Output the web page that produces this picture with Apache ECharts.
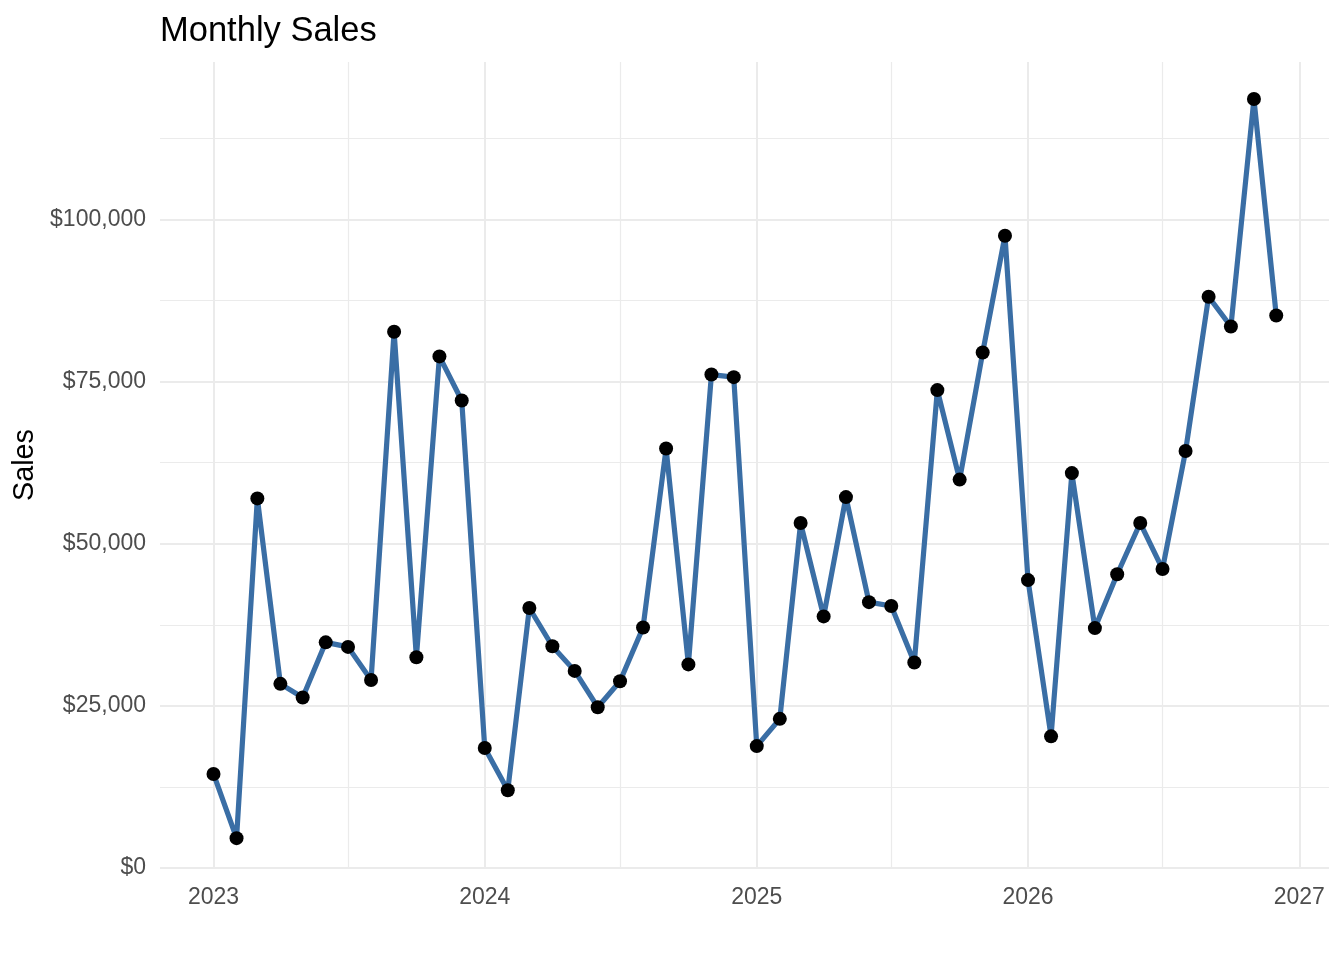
<!DOCTYPE html>
<html>
<head>
<meta charset="utf-8">
<script src="https://cdn.jsdelivr.net/npm/echarts@6/dist/echarts.min.js"></script>
<style>
  html, body { margin: 0; padding: 0; background: #fff; }
  #main { width: 1344px; height: 960px; }
</style>
</head>
<body>
<div id="main"></div>
<script>
var chartDom = document.getElementById('main');
var myChart = echarts.init(chartDom, null);

// monthly sales
var years = [2023, 2024, 2025, 2026];
var sales2023 = [14500, 4600, 57000, 28400, 26300, 34800, 34100, 29000, 82700, 32500, 78900, 72100];
var sales2024 = [18500, 12000, 40100, 34200, 30400, 24800, 28800, 37100, 64700, 31400, 76100, 75700];
var sales2025 = [18800, 23000, 53200, 38800, 57200, 41000, 40400, 31700, 73700, 59900, 79500, 97500];
var sales2026 = [44400, 20300, 60900, 37000, 45300, 53200, 46100, 64300, 88100, 83500, 118600, 85200];
var minorBreaks = ['2023-07-01', '2024-07-01', '2025-07-01', '2026-07-01'];

var allSales = [sales2023, sales2024, sales2025, sales2026];
var data = [];
years.forEach(function (y, i) {
    allSales[i].forEach(function (v, m) {
        var mm = (m + 1 < 10 ? '0' : '') + (m + 1);
        data.push([y + '-' + mm + '-01', v]);
    });
});

var grid = '#EBEBEB';
var tickColor = '#4D4D4D';
var font = 'Liberation Sans, Arial, Helvetica, sans-serif';

var option = {
    useUTC: true,
    animation: false,
    backgroundColor: '#ffffff',
    textStyle: { fontFamily: font },
    title: {
        text: 'Monthly Sales',
        left: 155,
        top: 9,
        textStyle: { fontSize: 34.5, fontWeight: 'normal', color: '#000', fontFamily: font }
    },
    grid: { left: 160, right: 15, top: 62, bottom: 92 },
    xAxis: {
        type: 'time',
        min: Date.UTC(2022, 9, 21),
        max: Date.UTC(2027, 1, 10),
        minInterval: 365 * 86400000,
        maxInterval: 366 * 86400000,
        axisLine: { show: false },
        axisTick: { show: false },
        axisLabel: {
            formatter: '{yyyy}',
            color: tickColor,
            fontSize: 23,
            margin: 18,
            showMinLabel: false,
            showMaxLabel: false
        },
        splitLine: { show: true, showMinLine: false, showMaxLine: false, lineStyle: { color: grid, width: 2 } }
    },
    yAxis: {
        type: 'value',
        min: 0,
        max: 124300,
        interval: 25000,
        name: 'Sales',
        nameLocation: 'middle',
        nameGap: 119,
        nameTextStyle: { fontSize: 28.8, color: '#000', fontFamily: font },
        axisLine: { show: false },
        axisTick: { show: false },
        axisLabel: {
            color: tickColor,
            fontSize: 23,
            margin: 14,
            showMaxLabel: false,
            formatter: function (v) {
                if (v % 25000 !== 0) return '';
                return '$' + v.toLocaleString('en-US');
            }
        },
        splitLine: { show: true, showMaxLine: false, lineStyle: { color: grid, width: 2 } },
        minorTick: { show: false, splitNumber: 2 },
        minorSplitLine: { show: true, lineStyle: { color: grid, width: 1.2 } }
    },
    series: [
        {
            type: 'line',
            data: data,
            symbol: 'circle',
            symbolSize: 14,
            itemStyle: { color: '#000' },
            lineStyle: { color: '#3A6EA5', width: 5.2 },
            z: 3,
            markLine: {
                silent: true,
                symbol: ['none', 'none'],
                label: { show: false },
                lineStyle: { color: grid, width: 1.2, type: 'solid' },
                z: 1,
                data: minorBreaks.map(function (d) { return { xAxis: d }; })
            }
        }
    ]
};

myChart.setOption(option);
</script>
</body>
</html>
